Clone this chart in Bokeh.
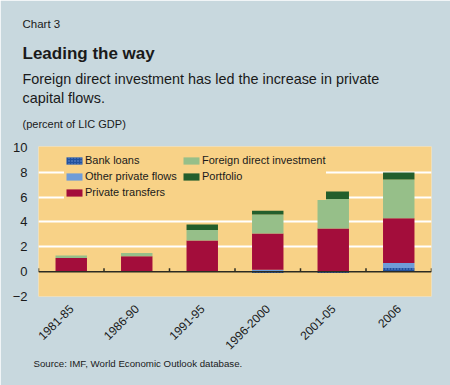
import math
import numpy as np
from bokeh.plotting import figure
from bokeh.models import (FactorRange, Range1d, Label, Legend, LegendItem,
                          FixedTicker, Span)
from bokeh.embed import file_html
from bokeh.resources import INLINE

# ---- data (percent of LIC GDP) ----
periods = ["1981-85", "1986-90", "1991-95", "1996-2000", "2001-05", "2006"]
bank_loans = [0.0, 0.0, 0.0, -0.1, -0.1, 0.3]
other_private_flows = [0.0, 0.0, 0.0, 0.15, 0.0, 0.4]
private_transfers = [1.1, 1.25, 2.5, 2.92, 3.47, 3.6]
foreign_direct_investment = [0.2, 0.25, 0.85, 1.53, 2.39, 3.12]
portfolio = [0.0, 0.0, 0.45, 0.3, 0.59, 0.56]
y_ticks = [-2, 0, 2, 4, 6, 8, 10]

# ---- style ----
OUTER = "#c8d8de"
PLOT_BG = "#f8d287"
TEXT = "#1a1a1a"
FONT = "Liberation Sans"
C_BL = "#21519e"
C_OPF = "#6f9cd8"
C_PT = "#a30d3b"
C_FDI = "#96bf89"
C_PF = "#235e2c"

W, H = 450, 385
FL, FR, FT, FB = 38, 431, 146, 296  # frame edges in canvas pixels

p = figure(x_range=FactorRange(*periods, range_padding=0),
           y_range=Range1d(-2.0, 10.08),
           width=W, height=H, output_backend="svg", toolbar_location=None,
           min_border_left=FL, min_border_right=W - FR,
           min_border_top=FT, min_border_bottom=H - FB)
p.background_fill_color = PLOT_BG
p.border_fill_color = OUTER
p.outline_line_color = None

p.yaxis.ticker = FixedTicker(ticks=y_ticks)
p.yaxis.axis_line_color = None
p.yaxis.major_tick_line_color = None
p.yaxis.minor_tick_line_color = None
p.yaxis.major_label_standoff = 5
p.yaxis.major_label_text_font = FONT
p.yaxis.major_label_text_font_size = "13px"
p.yaxis.major_label_text_color = TEXT

p.xaxis.axis_line_color = None
p.xaxis.major_tick_line_color = None
p.xaxis.major_label_orientation = math.pi / 4
p.xaxis.major_label_standoff = 4
p.xaxis.major_label_text_font = FONT
p.xaxis.major_label_text_font_size = "12px"
p.xaxis.major_label_text_color = TEXT

p.xgrid.visible = False
p.ygrid.ticker = FixedTicker(ticks=[2, 4, 6, 8])
p.ygrid.grid_line_color = "white"
p.ygrid.grid_line_width = 2

# stacked bars (positives up from 0, negatives down from 0)
series = [
    ("Bank loans", bank_loans, C_BL, dict(hatch_pattern="dot", hatch_color="#6d93d4", hatch_scale=3, hatch_weight=1)),
    ("Other private flows", other_private_flows, C_OPF, {}),
    ("Private transfers", private_transfers, C_PT, {}),
    ("Foreign direct investment", foreign_direct_investment, C_FDI, {}),
    ("Portfolio", portfolio, C_PF, {}),
]
pos = np.zeros(len(periods))
neg = np.zeros(len(periods))
renderers = {}
for name, vals, color, extra in series:
    v = np.array(vals, dtype=float)
    bottom = np.where(v >= 0, pos, neg)
    top = bottom + v
    pos = np.where(v >= 0, top, pos)
    neg = np.where(v < 0, top, neg)
    r = p.vbar(x=periods, bottom=bottom, top=top, width=0.48,
               fill_color=color, line_color=None, **extra)
    renderers[name] = r

# zero line and category boundary ticks
p.add_layout(Span(location=0, dimension="width", line_color="#2b2b22", line_width=1.5))
bounds = [(c, -0.5) for c in periods] + [(periods[-1], 0.5)]
p.segment(x0=bounds, y0=[0] * len(bounds), x1=bounds, y1=[0.28] * len(bounds),
          line_color="#2b2b22", line_width=1.5)

# legend (drawn under the bars, above the grid)
items = [LegendItem(label=name, renderers=[renderers[name]]) for name, *_ in series]
legend = Legend(items=items, ncols=2, orientation="vertical",
                location=(26, 96), padding=3, spacing=0, margin=0,
                glyph_width=20, glyph_height=9, label_height=16, label_width=96,
                label_standoff=1,
                background_fill_color=PLOT_BG, background_fill_alpha=1,
                border_line_color=None, level="underlay",
                label_text_font=FONT, label_text_font_size="11px",
                label_text_color=TEXT)
p.add_layout(legend, "center")

# ---- texts: each label sits in its own panel stacked above the frame ----
EM = 1.117       # text box height per font-size px (Liberation Sans metrics)
_stack = {"bottom": FT + 4}


def add_text(txt, cx, baseline, size, style="normal"):
    b = _stack["bottom"]
    p.add_layout(Label(x=cx - FL, y=b - baseline, x_units="screen", y_units="screen",
                       text=txt, text_font=FONT, text_font_size="%gpx" % size,
                       text_font_style=style, text_color=TEXT,
                       text_baseline="alphabetic", text_align="left"), "above")
    _stack["bottom"] = b - EM * size


add_text("(percent of LIC GDP)", 22, 127.5, 11)
add_text("capital flows.", 22, 101.5, 14.4)
add_text("Foreign direct investment has led the increase in private", 22, 82, 14.4)
add_text("Leading the way", 22, 57, 17, "bold")
add_text("Chart 3", 22, 27, 11.5)
add_text("Source: IMF, World Economic Outlook database.", 33, 366, 9.7)

open("out.html", "w").write(file_html(p, INLINE))
